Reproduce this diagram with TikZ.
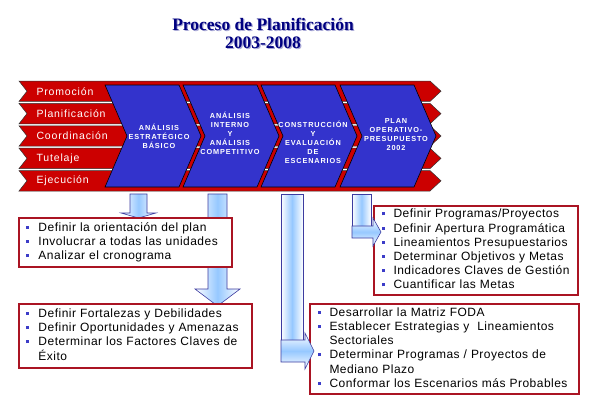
\documentclass[tikz,border=0pt]{standalone}
\usepackage{fontspec}
\setmainfont{Liberation Sans}
\newfontfamily\titlefont{Liberation Serif}
\newfontfamily\rowfont[LetterSpace=8]{Liberation Sans}
\newfontfamily\stagefont[LetterSpace=12]{Liberation Sans}
\newfontfamily\itemfont[LetterSpace=4]{Liberation Sans}

\definecolor{bandred}{RGB}{204,0,0}
\definecolor{stageblue}{RGB}{51,51,204}
\definecolor{titlenavy}{RGB}{0,0,128}
\definecolor{titleshadow}{RGB}{170,170,215}
\definecolor{boxred}{RGB}{170,20,35}
\definecolor{arrowline}{RGB}{60,60,160}
\definecolor{arrowblue}{RGB}{150,200,255}
\definecolor{bulletblue}{RGB}{60,60,200}

\newcommand{\bul}{\textcolor{bulletblue}{\rule[2.5pt]{3pt}{3pt}}}
\newenvironment{bullets}{\begin{tabular}{@{}c@{\hspace{9pt}}l@{}}}{\end{tabular}}

\tikzset{
  bandrow/.style={fill=bandred,draw=black!80,line width=0.5pt},
  rowlabel/.style={anchor=west,text=white,font=\rowfont\fontsize{10.5}{12}\selectfont},
  stagebox/.style={fill=stageblue,draw=black,line width=0.6pt},
  stagelabel/.style={text=white,align=center,font=\stagefont\bfseries\fontsize{7.3}{9}\selectfont},
  listbox/.style={draw=boxred,line width=2pt,fill=white,anchor=north west,
    inner xsep=7.5pt,inner ysep=0pt,font=\itemfont\fontsize{12}{14.2}\selectfont},
  blockarrow/.style={draw=arrowline,line width=0.6pt,left color=white,right color=white,middle color=arrowblue},
  sidearrow/.style={draw=arrowline,line width=0.6pt,top color=white,bottom color=white,middle color=arrowblue}
}

\begin{document}
\begin{tikzpicture}[x=1pt,y=-1pt]
        \useasboundingbox[fill=white](0,0)rectangle(591,404);

        % title
        \node[text=titleshadow,align=center,font=\titlefont\bfseries\fontsize{17.5}{18}\selectfont]at(264.2,34.2){Proceso de Planificación\\2003-2008};
        \node[text=titlenavy,align=center,font=\titlefont\bfseries\fontsize{17.5}{18}\selectfont](title)at(263,33){Proceso de Planificación\\2003-2008};

        % red rows
        \foreach \t/\lab [count=\i] in {81/Promoción,103.4/Planificación,125.8/Coordinación,148.2/Tutelaje,170.6/Ejecución}{
            \draw[bandrow](19,\t)--(430,\t)--(441,\t+10.2)--(430,\t+20.4)--(19,\t+20.4)--(27,\t+10.2)--cycle;
            \node[rowlabel](row\i)at(33,\t+10.2){\lab};
        }

        % blue stages
        \foreach \x in {105,183,261,340}
            \draw[stagebox](\x,85)--(\x+74,85)--(\x+96,136)--(\x+74,187)--(\x,187)--(\x+22,136)--cycle;
        \node[stagelabel](stage1)at(159,136){ANÁLISIS\\ESTRATÉGICO\\BÁSICO};
        \node[stagelabel](stage2)at(230,133){ANÁLISIS\\INTERNO\\Y\\ANÁLISIS\\COMPETITIVO};
        \node[stagelabel](stage3)at(313,142){CONSTRUCCIÓN\\Y\\EVALUACIÓN\\DE\\ESCENARIOS};
        \node[stagelabel](stage4)at(396,135){PLAN\\OPERATIVO-\\PRESUPUESTO\\2002};

        % down arrows
        \draw[blockarrow](208,194)--(227,194)--(227,289)--(240,289)--(217.5,306)--(195,289)--(208,289)--cycle;
        \draw[blockarrow](130,194)--(147,194)--(147,213)--(156,213)--(138.5,218)--(121,213)--(130,213)--cycle;

        % lists
        \node[listbox,text width=198pt,minimum height=49pt](list1)at(18,217){\begin{bullets}
            \bul & Definir la orientación del plan\\
            \bul & Involucrar a todas las unidades\\
            \bul & Analizar el cronograma
        \end{bullets}};
        \node[listbox,text width=218pt,minimum height=64pt](list2)at(18,303){\begin{bullets}
            \bul & Definir Fortalezas y Debilidades\\
            \bul & Definir Oportunidades y Amenazas\\
            \bul & Determinar los Factores Claves de\\
                 & Éxito
        \end{bullets}};
        \node[listbox,text width=189pt,minimum height=89pt](list3)at(373,205){\begin{bullets}
            \bul & Definir Programas/Proyectos\\
            \bul & Definir Apertura Programática\\
            \bul & Lineamientos Presupuestarios\\
            \bul & Determinar Objetivos y Metas\\
            \bul & Indicadores Claves de Gestión\\
            \bul & Cuantificar las Metas
        \end{bullets}};
        \node[listbox,text width=254pt,minimum height=90pt](list4)at(309,303){\begin{bullets}
            \bul & Desarrollar la Matriz FODA\\
            \bul & Establecer Estrategias y\ \ Lineamientos\\
                 & Sectoriales\\
            \bul & Determinar Programas / Proyectos de\\
                 & Mediano Plazo\\
            \bul & Conformar los Escenarios más Probables
        \end{bullets}};

        % bent arrows
        \draw[blockarrow](281,194)rectangle(303,340);
        \draw[sidearrow](281,340)--(305,340)--(305,333)--(314,351)--(305,369)--(305,362)--(281,362)--cycle;
        \draw[blockarrow](352,194)rectangle(371,226);
        \draw[sidearrow](352,226)--(373,226)--(373,218)--(381,232)--(373,246)--(373,238)--(352,238)--cycle;
    \end{tikzpicture}
\end{document}
